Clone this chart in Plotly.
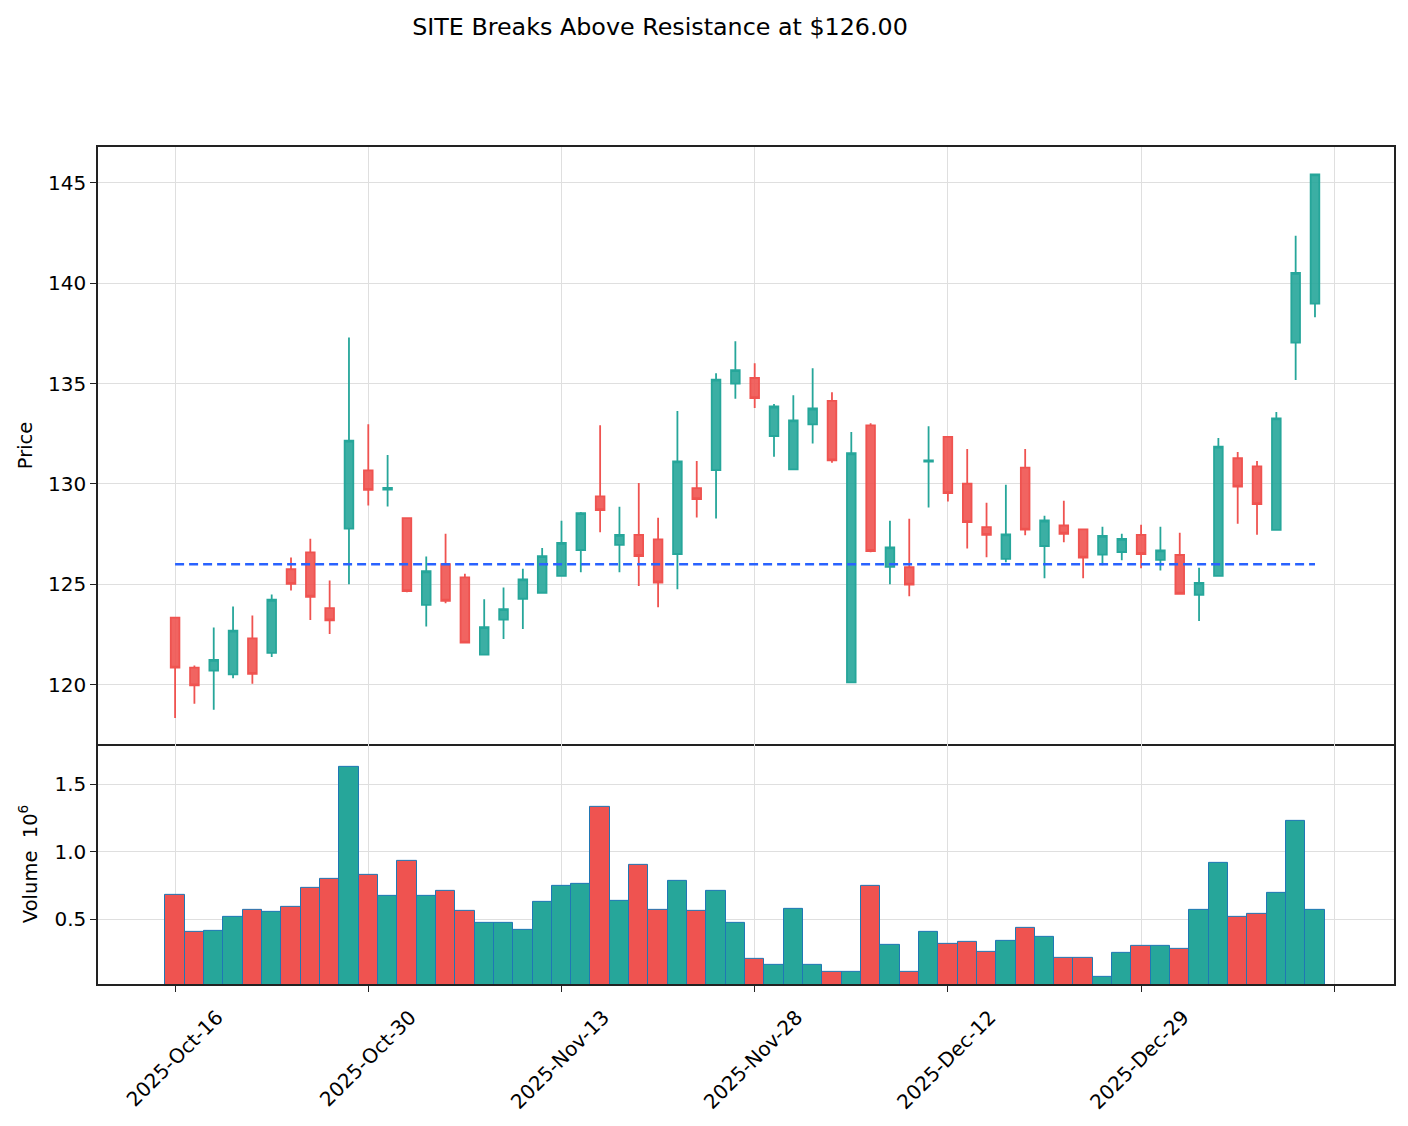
import plotly.graph_objects as go

title_text = "SITE Breaks Above Resistance at $126.00"
resistance = 126.00

tick_labels = ["2025-Oct-16", "2025-Oct-30", "2025-Nov-13", "2025-Nov-28",
               "2025-Dec-12", "2025-Dec-29"]

opens = [123.34, 120.85, 120.70, 120.51, 122.31, 121.58, 125.75, 126.59, 123.81, 127.77,
         130.68, 129.72, 128.30, 123.98, 126.00, 125.35, 121.50, 123.24, 124.28, 124.58,
         125.42, 126.71, 129.38, 126.96, 127.46, 127.24, 126.51, 129.79, 130.69, 135.00,
         135.28, 132.39, 130.73, 132.97, 134.14, 120.11, 132.92, 125.87, 125.85, 131.12,
         132.35, 130.02, 127.85, 126.27, 130.81, 126.91, 127.93, 127.74, 126.48, 126.61,
         127.46, 126.22, 126.46, 124.48, 125.42, 131.28, 130.88, 127.71, 137.04, 138.99]
highs = [123.36, 120.95, 122.85, 123.90, 123.45, 124.49, 126.33, 127.27, 125.19, 137.30,
         132.98, 131.44, 128.32, 126.38, 127.52, 125.52, 124.25, 124.84, 125.78, 126.81,
         128.17, 128.60, 132.93, 128.86, 130.05, 128.32, 133.63, 131.15, 135.52, 137.11,
         136.01, 133.98, 134.42, 135.76, 134.57, 132.59, 133.02, 128.17, 128.27, 132.88,
         132.37, 131.74, 129.06, 129.96, 131.74, 128.42, 129.16, 127.76, 127.87, 127.52,
         127.97, 127.87, 127.57, 125.83, 132.29, 131.59, 131.15, 133.58, 142.37, 145.43]
lows = [118.34, 119.05, 118.75, 120.32, 120.04, 121.38, 124.69, 123.22, 122.52, 125.00,
        128.93, 128.88, 124.60, 122.90, 124.06, 122.07, 121.45, 122.28, 122.77, 124.55,
        125.40, 125.60, 127.59, 125.60, 124.91, 123.86, 124.76, 128.33, 128.28, 134.24,
        133.79, 131.36, 130.70, 132.01, 131.06, 120.10, 126.60, 125.00, 124.41, 128.83,
        129.13, 126.79, 126.35, 126.10, 127.44, 125.30, 127.09, 125.30, 125.95, 126.20,
        125.80, 125.69, 124.50, 123.17, 125.40, 128.02, 127.47, 127.70, 135.18, 138.31]
closes = [120.85, 119.96, 121.23, 122.69, 120.54, 124.23, 125.02, 124.38, 123.20, 132.16,
          129.71, 129.80, 124.66, 125.65, 124.18, 122.09, 122.87, 123.76, 125.25, 126.40,
          127.06, 128.55, 128.70, 127.46, 126.41, 125.09, 131.13, 129.24, 135.20, 135.67,
          134.28, 133.86, 133.17, 133.76, 131.18, 131.53, 126.66, 126.84, 124.98, 131.18,
          129.54, 128.10, 127.46, 127.49, 127.72, 128.18, 127.52, 126.33, 127.41, 127.26,
          126.51, 126.69, 124.53, 125.07, 131.86, 129.87, 129.00, 133.27, 140.52, 145.43]
volumes = [676000, 401000, 411000, 515000, 565000, 552000, 594000, 735000, 795000, 1634000,
           825000, 669000, 936000, 669000, 713000, 557000, 475000, 468000, 423000, 626000,
           743000, 760000, 1337000, 634000, 906000, 567000, 780000, 557000, 706000, 475000,
           201000, 156000, 579000, 163000, 109000, 109000, 743000, 305000, 109000, 401000,
           312000, 327000, 253000, 334000, 438000, 364000, 215000, 215000, 69000, 245000,
           297000, 297000, 275000, 565000, 921000, 513000, 535000, 693000, 1233000, 565000]

UP = "#26a69a"
DOWN = "#ef5350"
FONT = "DejaVu Sans"

n = len(closes)
idx = list(range(n))
vol_colors = [UP if c >= o else DOWN for o, c in zip(opens, closes)]

fig = go.Figure()

fig.add_trace(go.Candlestick(
    x=idx, open=opens, high=highs, low=lows, close=closes,
    increasing=dict(line=dict(color=UP, width=1.8), fillcolor="rgba(38,166,154,0.9)"),
    decreasing=dict(line=dict(color=DOWN, width=1.8), fillcolor="rgba(239,83,80,0.9)"),
    whiskerwidth=0, showlegend=False, xaxis="x", yaxis="y",
))

fig.add_trace(go.Scatter(
    x=[idx[0], idx[-1]], y=[resistance, resistance], mode="lines",
    line=dict(color="#2962ff", width=2.6, dash="9px,5px"),
    showlegend=False, xaxis="x", yaxis="y",
))

fig.add_trace(go.Bar(
    x=idx, y=[v / 1e6 for v in volumes], width=1.0,
    marker=dict(color=vol_colors, line=dict(color="#1f77b4", width=1)),
    showlegend=False, xaxis="x2", yaxis="y2",
))

split = (987 - 746) / 840.0
label_ticks = list(range(0, 10 * len(tick_labels), 10))
grid_ticks = list(range(0, 61, 10))

axis_common = dict(
    showline=True, linecolor="#222222", linewidth=1.5, mirror=True,
    showgrid=True, gridcolor="#dfdfdf", gridwidth=1.3,
    zeroline=False, tickfont=dict(family=FONT, size=20, color="black"),
    ticks="outside", ticklen=6, tickcolor="#222222", tickwidth=1.3,
)

fig.update_layout(
    width=1408, height=1126,
    margin=dict(l=98, r=14, t=147, b=139),
    paper_bgcolor="white", plot_bgcolor="white",
    boxgap=0.36, bargap=0,
    font=dict(family=FONT, size=20, color="black"),
    title=dict(text=title_text, x=660 / 1408, xanchor="center", xref="container",
               y=1 - 27 / 1126, yanchor="middle", yref="container",
               font=dict(family=FONT, size=23.8, color="black")),
    xaxis=dict(axis_common, domain=[0, 1], anchor="y", range=[-3.99, 63.09],
               tickvals=grid_ticks, showticklabels=False, ticks="",
               rangeslider=dict(visible=False), matches="x2"),
    yaxis=dict(axis_common, domain=[split, 1], anchor="x", range=[117.05, 146.79],
               tickvals=[120, 125, 130, 135, 140, 145],
               title=dict(text="Price", standoff=10, font=dict(family=FONT, size=19.5))),
    xaxis2=dict(axis_common, domain=[0, 1], anchor="y2", range=[-3.99, 63.09],
                mirror=False,
                tickvals=label_ticks, ticktext=tick_labels, tickangle=-45,
                ticklabelshift=42, ticklabelstandoff=6,
                minor=dict(tickvals=[60], ticks="outside", ticklen=6,
                           tickcolor="#222222", tickwidth=1.3,
                           showgrid=True, gridcolor="#dfdfdf", gridwidth=1.3)),
    yaxis2=dict(axis_common, domain=[0, split], anchor="x2", range=[0.017, 1.802],
                tickvals=[0.5, 1.0, 1.5], ticktext=["0.5", "1.0", "1.5"],
                title=dict(text="Volume  10<sup>6</sup>", standoff=12,
                           font=dict(family=FONT, size=19.5))),
)

fig.write_html("out.html")
